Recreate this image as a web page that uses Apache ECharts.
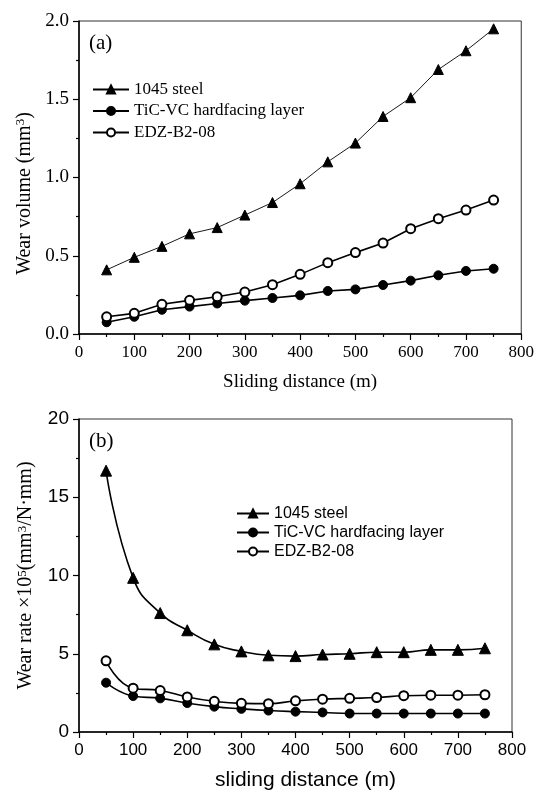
<!DOCTYPE html>
<html>
<head>
<meta charset="utf-8">
<script src="https://cdn.jsdelivr.net/npm/echarts@6/dist/echarts.min.js"></script>
<style>
html,body{margin:0;padding:0;background:#fff;}
#chart{width:537px;height:792px;}
</style>
</head>
<body>
<div id="chart"></div>
<script>
// ---- data ----
var distance = [50,100,150,200,250,300,350,400,450,500,550,600,650,700,750];
var seriesNames = ['1045 steel', 'TiC-VC hardfacing layer', 'EDZ-B2-08'];
// (a) wear volume (mm^3)
var volSteel = [0.41,0.49,0.56,0.64,0.68,0.76,0.84,0.96,1.10,1.22,1.39,1.51,1.69,1.81,1.95];
var volTiC   = [0.075,0.11,0.155,0.175,0.195,0.213,0.23,0.247,0.275,0.285,0.313,0.341,0.375,0.403,0.417];
var volEDZ   = [0.11,0.132,0.19,0.215,0.238,0.268,0.315,0.381,0.456,0.52,0.581,0.673,0.737,0.792,0.856];
// (b) wear rate x10^5 (mm^3/N.mm)
var rateSteel = [16.7,9.85,7.6,6.5,5.6,5.15,4.9,4.85,4.95,5.0,5.1,5.1,5.25,5.25,5.35];
var rateTiC   = [3.15,2.3,2.15,1.85,1.62,1.48,1.37,1.3,1.25,1.18,1.18,1.18,1.18,1.18,1.18];
var rateEDZ   = [4.55,2.8,2.65,2.24,1.96,1.83,1.81,1.99,2.1,2.15,2.2,2.32,2.35,2.35,2.38];
var xTicks = {min: 0, max: 800, interval: 100};
var yTicksA = {min: 0, max: 2.0, interval: 0.5};
var yTicksB = {min: 0, max: 20, interval: 5};

function pairs(xs, ys){ return xs.map(function(x,i){ return [x, ys[i]]; }); }

var serif = 'Liberation Serif, Times New Roman, serif';
var sans = 'Liberation Sans, Arial, sans-serif';

function mkX(idx, font, fs, name, nameFont, nameFs, gap, pad){
  return {
    type:'value', gridIndex: idx, min:xTicks.min, max:xTicks.max, interval:xTicks.interval,
    name: name, nameLocation:'middle', nameGap: gap,
    nameTextStyle:{fontFamily:nameFont, fontSize:nameFs, color:'#000', padding:pad},
    axisLine:{show:true, onZero:false, lineStyle:{color:'#000', width:1.5}},
    axisTick:{show:true, length:6, lineStyle:{color:'#000', width:1.2}},
    minorTick:{show:true, splitNumber:2, length:3, lineStyle:{color:'#000', width:1.2}},
    axisLabel:{fontFamily:font, fontSize:fs, color:'#000', margin:10},
    splitLine:{show:false}
  };
}
function mkY(idx, font, fs, t, fmt, name, nameFs, gap, pad){
  return {
    type:'value', gridIndex: idx, min:t.min, max:t.max, interval:t.interval,
    name: name, nameLocation:'middle', nameGap: gap,
    nameTextStyle:{fontFamily:serif, fontSize:nameFs, color:'#000', padding:pad,
      rich:{sup:{fontFamily:serif, fontSize:Math.round(nameFs*0.65), color:'#000', verticalAlign:'top', lineHeight:nameFs}}},
    axisLine:{show:true, onZero:false, lineStyle:{color:'#000', width:1.5}},
    axisTick:{show:true, length:6, lineStyle:{color:'#000', width:1.2}},
    minorTick:{show:true, splitNumber:2, length:3, lineStyle:{color:'#000', width:1.2}},
    axisLabel:{fontFamily:font, fontSize:fs, color:'#000', margin:10, formatter: fmt},
    splitLine:{show:false}
  };
}

function mkSeries(name, data, xi, symbol, size, width, smooth){
  return {
    name:name, type:'line', xAxisIndex:xi, yAxisIndex:xi, data:data,
    symbol:symbol, symbolSize:size, smooth:smooth,
    lineStyle:{color:'#000', width:width},
    itemStyle:{color:'#000', borderColor:'#000', borderWidth:1},
    emphasis:{disabled:true}, animation:false
  };
}

var chart = echarts.init(document.getElementById('chart'), null, {renderer:'canvas'});
chart.setOption({
  animation:false,
  backgroundColor:'#fff',
  grid:[
    {left:79, right:15, top:21, height:313, show:true, borderColor:'#333', borderWidth:1},
    {left:79, right:25, top:419, height:314, show:true, borderColor:'#333', borderWidth:1}
  ],
  xAxis:[
    mkX(0, serif, 17, 'Sliding distance (m)', serif, 19, 39, [0,0,0,0]),
    mkX(1, sans, 17, 'sliding distance (m)', sans, 21, 38, [0,0,0,20])
  ],
  yAxis:[
    mkY(0, serif, 19, yTicksA, function(v){return v.toFixed(1);}, 'Wear volume (mm{sup|3})', 20, 43, [0,32,0,0]),
    mkY(1, sans, 19, yTicksB, function(v){return String(v);}, 'Wear rate \u00d710{sup|5}(mm{sup|3}/N\u00b7mm)', 20, 43, [0,0,0,0])
  ],
  legend:[
    {data:seriesNames, orient:'vertical', left:92, top:81, padding:0, itemWidth:36, itemHeight:10, itemGap:4.5,
     textStyle:{fontFamily:serif, fontSize:17, color:'#000'}, selectedMode:false},
    {data:seriesNames, orient:'vertical', left:236, top:505.5, padding:0, itemWidth:32, itemHeight:10, itemGap:3,
     textStyle:{fontFamily:sans, fontSize:16, color:'#000'}, selectedMode:false}
  ],
  graphic:[
    {type:'text', left:89, top:33, style:{text:'(a)', font:'21px '+serif, fill:'#000'}},
    {type:'text', left:89, top:431, style:{text:'(b)', font:'21px '+serif, fill:'#000'}}
  ],
  series:[
    mkSeries(seriesNames[0], pairs(distance, volSteel), 0, 'triangle', 10, 0.9, false),
    mkSeries(seriesNames[1], pairs(distance, volTiC), 0, 'circle', 9, 1.6, false),
    mkSeries(seriesNames[2], pairs(distance, volEDZ), 0, 'emptyCircle', 9, 1.6, false),
    mkSeries(seriesNames[0], pairs(distance, rateSteel), 1, 'triangle', 11, 1.6, true),
    mkSeries(seriesNames[1], pairs(distance, rateTiC), 1, 'circle', 9, 1.6, true),
    mkSeries(seriesNames[2], pairs(distance, rateEDZ), 1, 'emptyCircle', 9, 1.6, true)
  ]
});
</script>
</body>
</html>
